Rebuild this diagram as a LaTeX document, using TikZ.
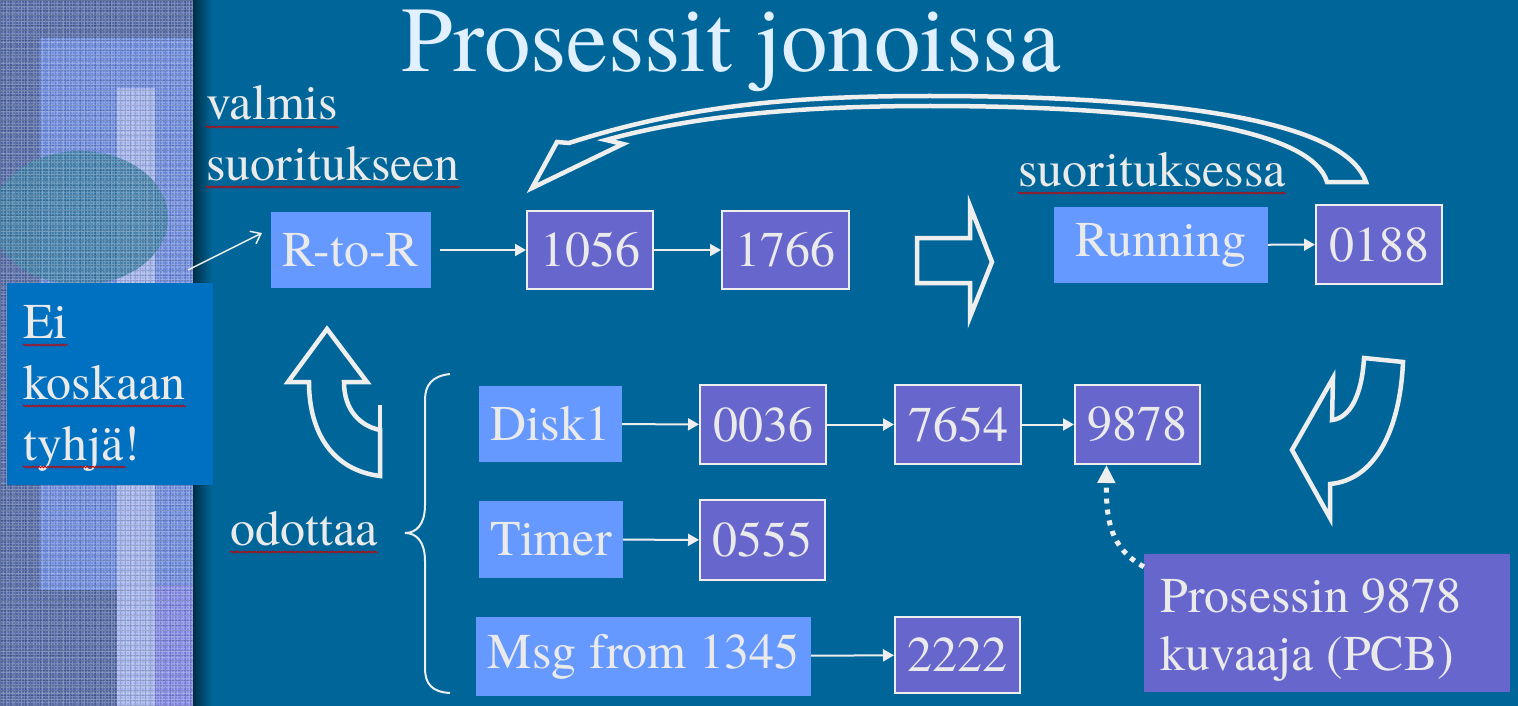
\documentclass[tikz,border=0pt]{standalone}
\usepackage{fontspec}
\setmainfont{TeX Gyre Termes}
\usetikzlibrary{arrows.meta,decorations.pathmorphing}
\definecolor{slidebg}{HTML}{006699}
\definecolor{lightbox}{HTML}{6699FF}
\definecolor{darkbox}{HTML}{6666CC}
\definecolor{inktext}{HTML}{EAEAEA}
\definecolor{titleink}{HTML}{E0F0FF}
\definecolor{calloutbg}{HTML}{0070C0}
\definecolor{shapeink}{HTML}{EEEEEE}
\definecolor{stripbase}{HTML}{4F67A6}
\definecolor{stripmid}{HTML}{6A8AE0}
\definecolor{stripbar}{HTML}{A0B2EE}
\definecolor{stripdisc}{HTML}{3A7DAA}
\definecolor{strippurple}{HTML}{7F86E6}
\newcommand\spellline[1]{\draw[spell] ([yshift=-7pt]#1.base west) -- ([yshift=-7pt]#1.base east);}
\begin{document}
\begin{tikzpicture}[x=1pt,y=-1pt,
  every node/.style={inner sep=0pt, text=inktext, font=\fontsize{50}{58}\selectfont},
  qhead/.style={fill=lightbox},
  pcbbox/.style={fill=darkbox, draw=shapeink, line width=2pt},
  link/.style={draw=shapeink, line width=2pt, -{Triangle[length=11pt,width=12pt]}},
  pointer/.style={draw=shapeink, line width=1.5pt, -{Straight Barb[length=9pt,width=14pt]}},
  dotlink/.style={draw=shapeink, line width=5pt, dash pattern=on 5pt off 6pt, -{Triangle[length=18pt,width=17pt]}},
  hollow/.style={draw=shapeink, line width=4.5pt, line join=miter},
  spell/.style={draw=red!80!black, line width=0.9pt, decorate, decoration={snake, amplitude=0.8pt, segment length=3pt}},
  plain/.style={anchor=base west}]

\useasboundingbox (0,0) rectangle (1518,706);
\fill[slidebg] (0,0) rectangle (1518,706);

% textured side strip
\begin{scope}
  \clip (0,0) rectangle (193,706);
  \fill[stripbase] (0,0) rectangle (193,706);
  \fill[stripmid] (40,38) rectangle (193,590);
  \fill[strippurple] (150,585) rectangle (193,706);
  \fill[stripbar] (117,88) rectangle (155,706);
  \fill[stripdisc, opacity=0.9] (80,218) ellipse [x radius=88, y radius=67];
  \draw[step=3pt, white, opacity=0.22, line width=0.8pt] (0,0) grid (193,706);
  \draw[step=5pt, black, opacity=0.16, line width=0.8pt] (0,0) grid (193,706);
  \draw[step=7pt, white, opacity=0.1, line width=1.4pt] (1,1) grid (193,706);
\end{scope}
\shade[left color=black!55!slidebg, right color=slidebg] (193,0) rectangle (212,706);

% title and labels
\node[anchor=base, font=\fontsize{93}{100}\selectfont, text=titleink] (title) at (731,72) {Prosessit jonoissa};
\node[plain] (valmis) at (206,120) {valmis};
\node[plain] (suorit) at (206,180) {suoritukseen};
\node[plain] (suoritus) at (1018,186) {suorituksessa};
\node[plain] (odottaa) at (230,545) {odottaa};
\spellline{valmis}
\spellline{suorit}
\spellline{suoritus}
\spellline{odottaa}

% ready queue
\node[qhead, minimum width=160pt, minimum height=76pt] (rtor) at (351,250) {R-to-R};
\node[pcbbox, minimum width=126pt, minimum height=78pt] (n1056) at (590,250) {1056};
\node[pcbbox, minimum width=127pt, minimum height=78pt] (n1766) at (785.5,250) {1766};
\draw[link, shorten <=9pt] (rtor) -- (n1056);
\draw[link] (n1056) -- (n1766);

% running
\node[qhead, minimum width=214pt, minimum height=76pt] (running) at (1161,245) {Running};
\node[pcbbox, minimum width=126pt, minimum height=79pt] (n0188) at (1379,244.5) {0188};
\draw[link] (running) -- (n0188);

% waiting queues
\node[qhead, minimum width=143pt, minimum height=76pt] (disk1) at (550.5,424) {Disk1};
\node[pcbbox, minimum width=126pt, minimum height=79pt] (n0036) at (763,424.5) {0036};
\node[pcbbox, minimum width=126pt, minimum height=79pt] (n7654) at (958,424.5) {7654};
\node[pcbbox, minimum width=125pt, minimum height=79pt] (n9878) at (1137.5,424.5) {9878};
\draw[link] (disk1) -- (n0036);
\draw[link] (n0036) -- (n7654);
\draw[link] (n7654) -- (n9878);

\node[qhead, minimum width=144pt, minimum height=77pt] (timer) at (551,539.5) {Timer};
\node[pcbbox, minimum width=125pt, minimum height=80pt] (n0555) at (762.5,540) {0555};
\draw[link] (timer) -- (n0555);

\node[qhead, minimum width=335pt, minimum height=79pt] (msg) at (643.5,656.5) {Msg from 1345};
\node[pcbbox, minimum width=125pt, minimum height=76pt] (n2222) at (957.5,655) {2222};
\draw[link] (msg) -- (n2222);

% brace grouping the waiting queues
\draw[draw=shapeink, line width=2pt]
  (450,374) .. controls (432,376) and (425,385) .. (425,400) -- (425,505)
  .. controls (425,525) and (416,533) .. (405,533)
  .. controls (416,533) and (425,541) .. (425,561) -- (425,668)
  .. controls (425,684) and (432,692) .. (450,693);

% process control block callout
\node[fill=darkbox, minimum width=366pt, minimum height=138pt] (pcb) at (1327,623) {};
\node[plain] (pcbA) at (1160,612) {Prosessin 9878};
\node[plain] (pcbB) at (1160,670) {kuvaaja (PCB)};
\draw[dotlink] ([yshift=-13pt]pcb.north west) .. controls (1110,548) and (1106,520) .. ([xshift=-31pt]n9878.south);

% never-empty callout
\node[fill=calloutbg, minimum width=206pt, minimum height=202pt] (ei) at (110,384) {};
\node[plain] (eiA) at (23,338) {Ei};
\node[plain] (eiB) at (23,399) {koskaan};
\node[plain] (eiC) at (23,460) {tyhjä!};
\spellline{eiA}
\spellline{eiB}
\draw[spell] ([yshift=-7pt]eiC.base west) -- ([yshift=-7pt,xshift=-14pt]eiC.base east);
\coordinate (eitail) at (188,270);
\coordinate (eihead) at (262,233);
\draw[pointer] (eitail) -- (eihead);

% hollow block arrows
\draw[hollow] (917,238) -- (970,238) -- (970,206) -- (992,262) -- (970,317) -- (970,283) -- (917,283) -- cycle;
\draw[hollow] (327,329) -- (367,382) -- (344,382) .. controls (344,410) and (360,426) .. (380,430)
  -- (380,476) .. controls (332,470) and (309,432) .. (309,382) -- (288,382) -- cycle;
\draw[hollow] (380,430) -- (380,405);
\draw[hollow] (1292,450) -- (1333,378) -- (1332,420) .. controls (1350,418) and (1362,395) .. (1364,358)
  -- (1403,362) .. controls (1400,430) and (1375,480) .. (1330,484) -- (1330,518) -- cycle;
\draw[hollow] (569,143) .. controls (690,104) and (800,96) .. (930,96)
  .. controls (1170,96) and (1345,120) .. (1366,182) -- (1327,182)
  .. controls (1312,130) and (1160,106) .. (930,106)
  .. controls (810,106) and (700,114) .. (606,140) -- (623,144) -- (532,188) -- (557,142) -- cycle;
\end{tikzpicture}
\end{document}
